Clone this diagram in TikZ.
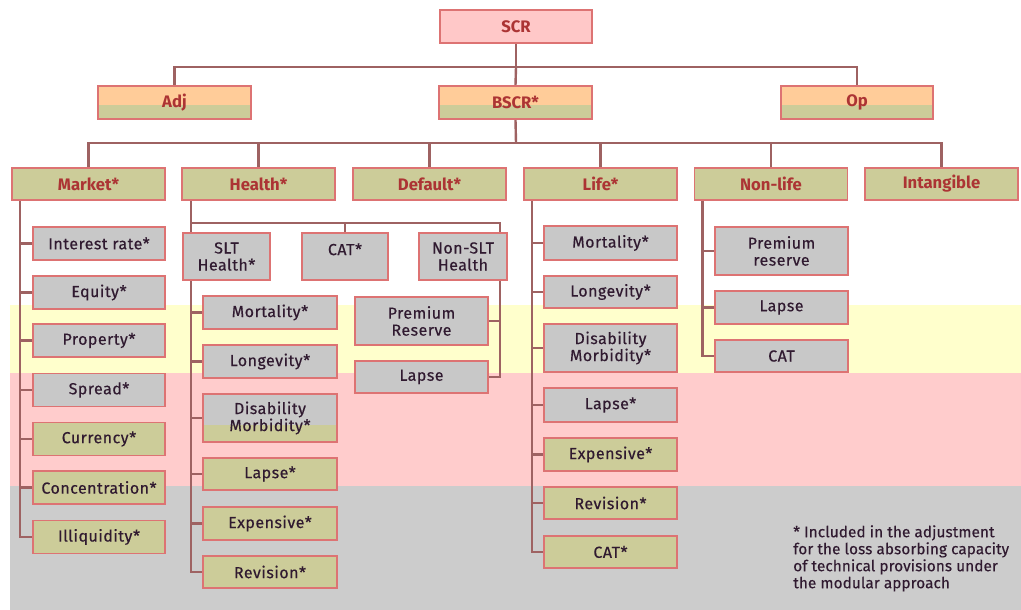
\documentclass[tikz,border=0pt]{standalone}
\usepackage{fontspec}
\setmainfont{Fira Sans}
\newfontfamily\kidfont{Fira Sans}[LetterSpace=3, FakeBold=0.4]
\newfontfamily\notefont{Fira Sans}[LetterSpace=0.5, FakeBold=0.3]
\usetikzlibrary{calc}
\definecolor{cPink}{HTML}{FFC8C8}
\definecolor{cOrange}{HTML}{FFCC99}
\definecolor{cOlive}{HTML}{CCCC99}
\definecolor{cGray}{HTML}{C8C8C8}
\definecolor{cBandY}{HTML}{FFFFCC}
\definecolor{cBandP}{HTML}{FFCCCC}
\definecolor{cBandG}{HTML}{CCCCCC}
\definecolor{cEdge}{HTML}{DD7373}
\definecolor{cLink}{HTML}{9E6262}
\definecolor{cHead}{HTML}{AC3434}
\definecolor{cText}{HTML}{301A30}
\pgfdeclarelayer{bands}
\pgfdeclarelayer{links}
\pgfsetlayers{bands,links,main}
\begin{document}
\begin{tikzpicture}[x=0.75pt,y=-0.75pt,
  sz/.style 2 args={minimum width=#1*0.75pt, minimum height=#2*0.75pt},
  basebox/.style={draw=cEdge, line width=1.3pt, inner sep=0pt, align=center},
  topbox/.style={basebox, font=\fontsize{12.5}{13}\selectfont\bfseries, text=cHead},
  kid/.style={basebox, font=\kidfont\fontsize{12}{12.75}\selectfont, text=cText},
  twotone/.style n args={3}{fill=#1, path picture={\fill[#2]
    ($(path picture bounding box.south west)!#3!(path picture bounding box.north west)$)
    rectangle (path picture bounding box.south east);}},
  link/.style={draw=cLink, line width=1.8pt}
]
\useasboundingbox (0,0) rectangle (1021,610);

% background bands
\begin{pgfonlayer}{bands}
  \fill[cBandY] (10,305) rectangle (1021,373);
  \fill[cBandP] (10,373) rectangle (1021,486);
  \fill[cBandG] (10,486) rectangle (1021,610);
\end{pgfonlayer}

% top levels
\node[topbox, fill=cPink, sz={152}{33}] (scr) at (516,26.5) {SCR};
\node[topbox, twotone={cOrange}{cOlive}{0.42}, sz={153}{33}] (adj) at (174.5,102.5) {Adj};
\node[topbox, twotone={cOrange}{cOlive}{0.42}, sz={153}{33}] (bscr) at (515.5,102.5) {BSCR*};
\node[topbox, twotone={cOrange}{cOlive}{0.42}, sz={152}{33}] (op) at (857,102.5) {Op};

% risk modules
\node[topbox, fill=cOlive, sz={153}{32}] (market) at (88.5,184) {Market*};
\node[topbox, fill=cOlive, sz={153}{32}] (health) at (258.5,184) {Health*};
\node[topbox, fill=cOlive, sz={153}{32}] (default) at (429.5,184) {Default*};
\node[topbox, fill=cOlive, sz={153}{32}] (life) at (600.5,184) {Life*};
\node[topbox, fill=cOlive, sz={153}{32}] (nonlife) at (771,184) {Non-life};
\node[topbox, fill=cOlive, sz={153}{32}] (intang) at (941.5,184) {Intangible};

% market sub-modules
\node[kid, fill=cGray, sz={132}{33}] (ir) at (99,243.5) {Interest rate*};
\node[kid, fill=cGray, sz={132}{33}] (equity) at (99,292.5) {Equity*};
\node[kid, fill=cGray, sz={132}{33}] (property) at (99,340.5) {Property*};
\node[kid, fill=cGray, sz={132}{33}] (spread) at (99,390) {Spread*};
\node[kid, fill=cOlive, sz={132}{33}] (currency) at (99,439) {Currency*};
\node[kid, fill=cOlive, sz={132}{33}] (conc) at (99,487.5) {Concentration*};
\node[kid, fill=cOlive, sz={132}{33}] (illiq) at (99,537) {Illiquidity*};

% health sub-modules
\node[kid, fill=cGray, sz={87}{47}] (slt) at (226.5,256.5) {SLT\\Health*};
\node[kid, fill=cGray, sz={86}{47}, text depth=1.1em] (hcat) at (345,256.5) {CAT*};
\node[kid, fill=cGray, sz={88}{47}] (nslt) at (463,256.5) {Non-SLT\\Health};

\node[kid, fill=cGray, sz={134}{33}] (hmort) at (270,312.5) {Mortality*};
\node[kid, fill=cGray, sz={134}{33}] (hlong) at (270,361.5) {Longevity*};
\node[kid, twotone={cGray}{cOlive}{0.35}, sz={134}{48}] (hdis) at (270,418) {Disability\\Morbidity*};
\node[kid, fill=cOlive, sz={134}{32}] (hlapse) at (270,474) {Lapse*};
\node[kid, fill=cOlive, sz={134}{33}] (hexp) at (270,523.5) {Expensive*};
\node[kid, fill=cOlive, sz={134}{32}] (hrev) at (270,572) {Revision*};

\node[kid, fill=cGray, sz={133}{48}] (nsprem) at (421.5,321) {Premium\\Reserve};
\node[kid, fill=cGray, sz={133}{32}] (nslapse) at (421.5,377) {Lapse};

% life sub-modules
\node[kid, fill=cGray, sz={133}{34}] (lmort) at (610.5,243) {Mortality*};
\node[kid, fill=cGray, sz={133}{32}] (llong) at (610.5,292) {Longevity*};
\node[kid, fill=cGray, sz={133}{48}] (ldis) at (610.5,348) {Disability\\Morbidity*};
\node[kid, fill=cGray, sz={133}{34}] (llapse) at (610.5,405) {Lapse*};
\node[kid, fill=cOlive, sz={133}{33}] (lexp) at (610.5,454.5) {Expensive*};
\node[kid, fill=cOlive, sz={133}{32}] (lrev) at (610.5,503) {Revision*};
\node[kid, fill=cOlive, sz={133}{32}] (lcat) at (610.5,552) {CAT*};

% non-life sub-modules
\node[kid, fill=cGray, sz={133}{48}] (nprem) at (781.5,251) {Premium\\reserve};
\node[kid, fill=cGray, sz={133}{33}] (nlapse) at (781.5,307.5) {Lapse};
\node[kid, fill=cGray, sz={133}{32}] (ncat) at (781.5,356) {CAT};

% footnote
\node[anchor=north west, inner sep=0pt, align=left, text=cText,
  font=\notefont\fontsize{11.5}{12.75}\selectfont] (note) at (793,525)
  {* Included in the adjustment\\for the loss absorbing capacity\\of technical provisions under\\the modular approach};

% connectors
\begin{pgfonlayer}{links}
  \coordinate (j1) at (516,67);
  \draw[link] (scr.south) -- (j1);
  \draw[link] (adj.north) |- (j1) -| (op.north);
  \draw[link] (j1) -- (bscr.north);

  \coordinate (j2) at (516,143);
  \draw[link] (bscr.south) -- (j2);
  \draw[link] (market.north) |- (j2) -| (intang.north);
  \foreach \m in {health,default,life,nonlife}
    \draw[link] (\m.north) -- (\m.north |- j2);

  % market
  \coordinate (mtop) at ($(market.south west)+(9,0)$);
  \draw[link] (mtop) |- (illiq.west);
  \foreach \c in {ir,equity,property,spread,currency,conc}
    \draw[link] (\c.west) -- (\c.west -| mtop);

  % health
  \coordinate (htop) at ($(health.south west)+(10,0)$);
  \coordinate (hbar) at (500,223);
  \draw[link] (htop) |- (hrev.west);
  \draw[link] (htop |- hbar) -- (hbar) |- (nslapse.east);
  \draw[link] (hcat.north) -- (hcat.north |- hbar);
  \foreach \c in {hmort,hlong,hdis,hlapse,hexp}
    \draw[link] (\c.west) -- (\c.west -| htop);
  \draw[link] (nsprem.east) -- (nsprem.east -| hbar);

  % life
  \coordinate (ltop) at ($(life.south west)+(9,0)$);
  \draw[link] (ltop) |- (lcat.west);
  \foreach \c in {lmort,llong,ldis,llapse,lexp,lrev}
    \draw[link] (\c.west) -- (\c.west -| ltop);

  % non-life
  \coordinate (ntop) at ($(nonlife.south west)+(9,0)$);
  \draw[link] (ntop) |- (ncat.west);
  \foreach \c in {nprem,nlapse}
    \draw[link] (\c.west) -- (\c.west -| ntop);
\end{pgfonlayer}
\end{tikzpicture}
\end{document}
